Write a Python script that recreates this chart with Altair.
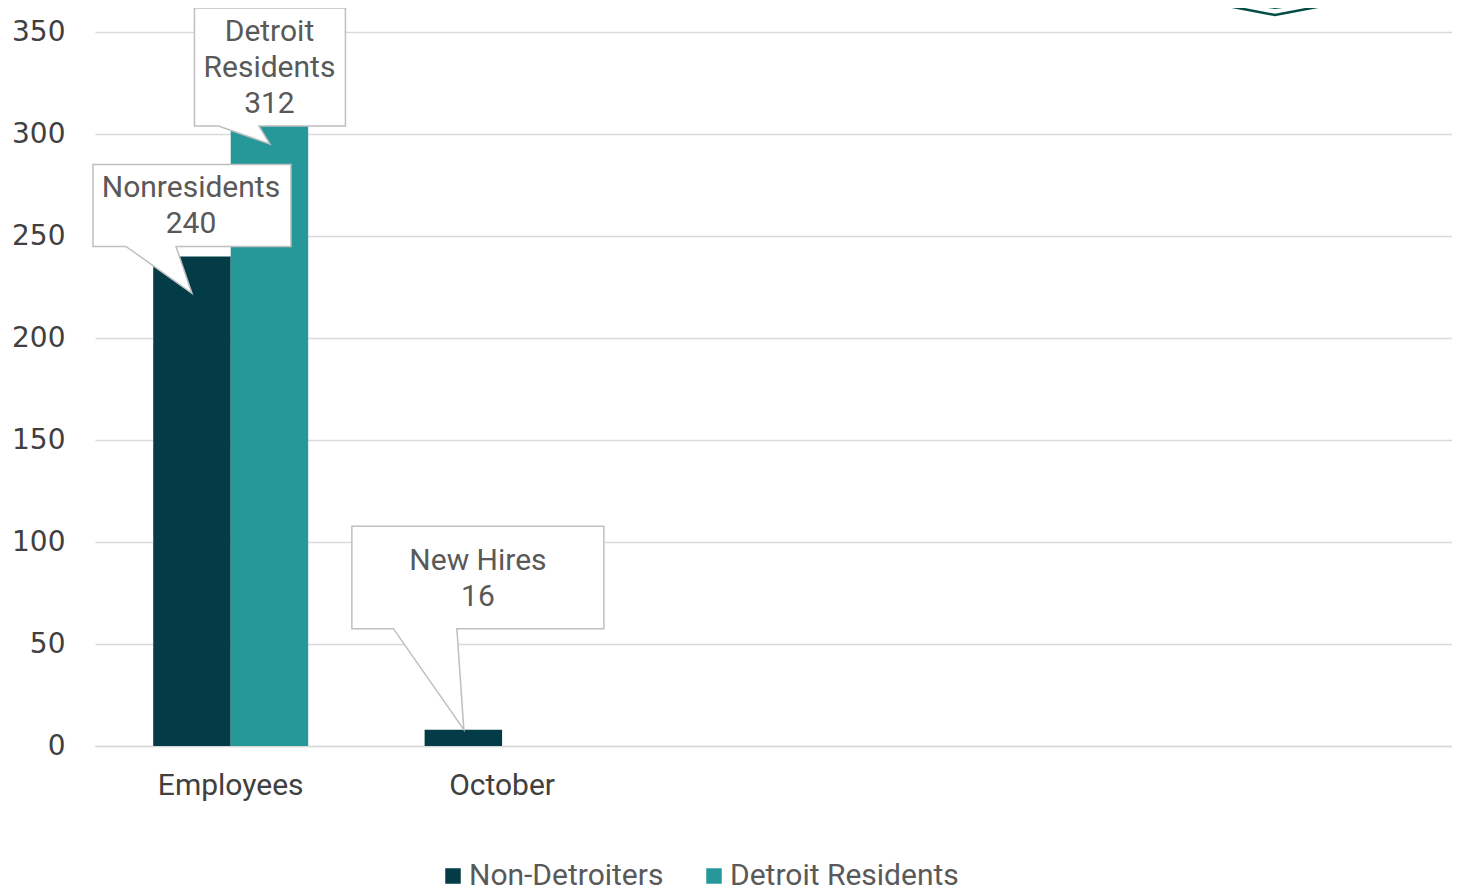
import altair as alt
import pandas as pd

# ---- data ----
categories = ["Employees", "October", "_3", "_4", "_5"]
series = ["Non-Detroiters", "Detroit Residents"]
bar_categories = ["Employees", "October"]
non_detroiters = [240, 8]
detroit_residents = [312, 0]

ann_category = ["Employees", "Employees", "October"]
ann_series = ["Non-Detroiters", "Detroit Residents", "Non-Detroiters"]
ann_value = [240, 312, 8]
ann_lines = [["Nonresidents", "240"], ["Detroit", "Residents", "312"], ["New Hires", "16"]]

y_ticks = [0, 50, 100, 150, 200, 250, 300, 350]

# ---- styles (pixel geometry of callouts relative to their anchor) ----
callout_styles = [
    {"path": "M-99,-92L99,-92L99,-10L-16,-10L0,37L-66,-10L-99,-10Z", "dx": -1, "dy": -68},
    {"path": "M-75,-101.5L76,-101.5L76,16.5L-10.5,16.5L0.5,34.5L-51,16.5L-75,16.5Z", "dx": 0, "dy": -77.5},
    {"path": "M-111.5,-203.5L140.5,-203.5L140.5,-101L-6.5,-101L0.5,0L-70,-101L-111.5,-101Z", "dx": 14.6, "dy": -168.7},
]
LINE_H = 36
DARK = "#033c47"
TEAL = "#26989a"
GRID = "#d9d9d9"
TEXT_GRAY = "#595959"
AXIS_GRAY = "#404040"

rows = []
for c, a, b in zip(bar_categories, non_detroiters, detroit_residents):
    rows.append({"category": c, "series": series[0], "value": a})
    rows.append({"category": c, "series": series[1], "value": b})
bars_df = pd.DataFrame(rows)

x_scale = alt.Scale(domain=categories, paddingInner=0.429, paddingOuter=0.2145)
y_scale = alt.Scale(domain=[0, 350])
off_scale = alt.Scale(domain=series, paddingInner=0, paddingOuter=0)

x_axis = alt.Axis(
    labelExpr="indexof(['Employees','October'], datum.value) >= 0 ? datum.value : ''",
    labelFont="Roboto",
    labelFontSize=30,
    labelColor=AXIS_GRAY,
    labelPadding=24,
    labelAngle=0,
    ticks=False,
    domain=True,
    domainColor=GRID,
    domainWidth=1.3,
    grid=False,
)
y_axis = alt.Axis(
    values=y_ticks,
    labelFont="DejaVu Sans",
    labelFontSize=28,
    labelColor=AXIS_GRAY,
    labelPadding=30,
    ticks=False,
    domain=False,
    grid=True,
    gridColor=GRID,
    gridWidth=1.3,
)

bars = alt.Chart(bars_df).mark_bar().encode(
    x=alt.X("category:N", scale=x_scale, sort=categories, title=None, axis=x_axis),
    xOffset=alt.XOffset("series:N", scale=off_scale, sort=series),
    y=alt.Y("value:Q", scale=y_scale, title=None, axis=y_axis),
    color=alt.Color(
        "series:N",
        scale=alt.Scale(domain=series, range=[DARK, TEAL]),
        sort=series,
        legend=alt.Legend(
            title=None,
            orient="none",
            legendX=343,
            legendY=829,
            direction="horizontal",
            symbolType="square",
            symbolSize=240,
            symbolStrokeWidth=0,
            labelFont="Roboto",
            labelFontSize=30,
            labelColor=TEXT_GRAY,
            labelOffset=1,
            labelLimit=500,
            columnPadding=35,
            padding=0,
        ),
    ),
)

layers = [bars]
for i in range(len(ann_category)):
    d = pd.DataFrame([{
        "category": ann_category[i],
        "series": ann_series[i],
        "value": ann_value[i],
    }])
    st = callout_styles[i]
    base = alt.Chart(d).encode(
        x=alt.X("category:N", scale=x_scale, sort=categories, title=None, axis=x_axis),
        xOffset=alt.XOffset("series:N", scale=off_scale, sort=series),
        y=alt.Y("value:Q", scale=y_scale, title=None, axis=y_axis),
    )
    box = base.mark_point(
        shape=st["path"], size=4, filled=True, fill="white", stroke="#bfbfbf",
        strokeWidth=1.5, opacity=1, fillOpacity=1, strokeOpacity=1,
    )
    layers.append(box)
    for j, line in enumerate(ann_lines[i]):
        t = base.mark_text(
            text=line, font="Roboto", fontSize=30, color=TEXT_GRAY,
            align="center", baseline="middle",
            dx=st["dx"], dy=st["dy"] + j * LINE_H,
        )
        layers.append(t)

# decorative logo fragment at the top right (clipped by the page top)
logo_data = alt.Data(values=[{}])
logo_fill = alt.Chart(logo_data).mark_point(
    shape="M-70,-30L70,-30L70,0L0,9L-70,0Z", size=4, filled=True,
    fill="#034d44", strokeWidth=0, opacity=1,
).encode(x=alt.value(1180), y=alt.value(-32))
logo_line = alt.Chart(logo_data).mark_point(
    shape="M-70,1.7L0,15L70,1.7", size=4, filled=False,
    stroke="#034d44", strokeWidth=2.5, opacity=1,
).encode(x=alt.value(1180), y=alt.value(-32))
layers += [logo_fill, logo_line]

chart = alt.layer(*layers).properties(
    width=1357,
    height=714,
    padding={"left": 87, "top": 24, "right": 0, "bottom": 146},
    autosize=alt.AutoSizeParams(type="none"),
    background="white",
).configure_view(stroke=None)

chart.save("out.html", embed_options={"renderer": "svg", "actions": False})
